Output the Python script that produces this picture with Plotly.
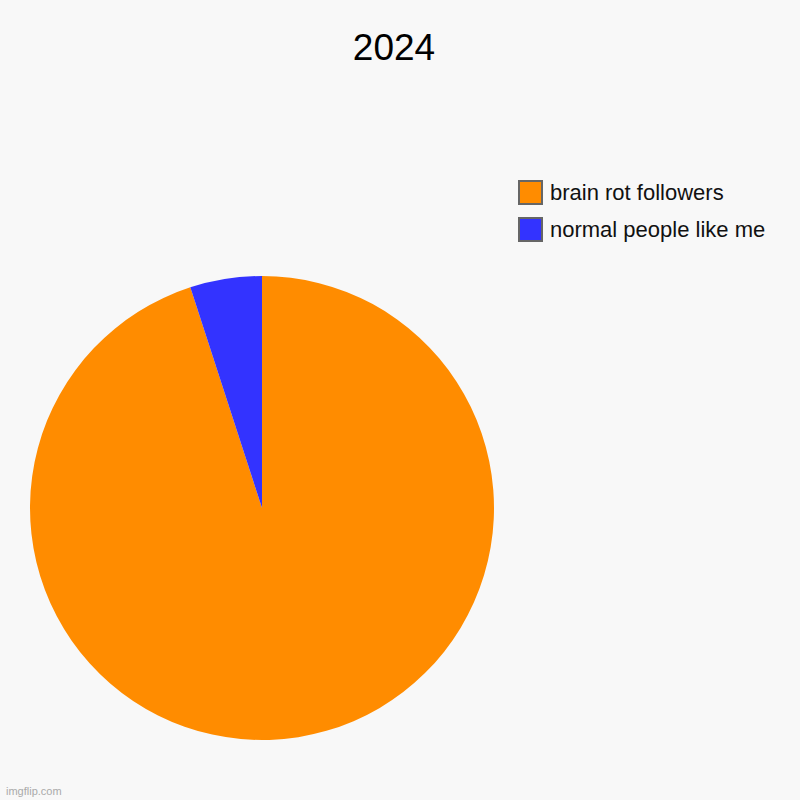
import plotly.graph_objects as go

# data
labels = ["brain rot followers", "normal people like me"]
values = [95, 5]
colors = ["#FF8C00", "#3333FF"]

W, H = 800, 800


def px(x):
    return x / W


def py(y):
    return 1 - y / H


fig = go.Figure()

fig.add_trace(go.Pie(
    labels=labels,
    values=values,
    marker=dict(colors=colors, line=dict(width=0)),
    sort=False,
    direction="clockwise",
    rotation=0,
    textinfo="none",
    hoverinfo="label+percent",
    showlegend=False,
    domain=dict(x=[px(30), px(494)], y=[py(740), py(276)]),
))

# hand-drawn legend (boxes with grey border, like the original)
for i, (lab, col) in enumerate(zip(labels, colors)):
    top = 181 + i * 37
    fig.add_shape(
        type="rect", xref="paper", yref="paper",
        x0=px(519), x1=px(542), y0=py(top + 23), y1=py(top),
        fillcolor=col, line=dict(color="#666666", width=2),
    )
    fig.add_annotation(
        x=px(548), y=py(top + 11.5), xref="paper", yref="paper",
        text=lab, showarrow=False, xanchor="left", yanchor="middle",
        font=dict(family="Liberation Sans, Arial", size=22, color="#111111"),
    )

# watermark
fig.add_annotation(
    x=px(4), y=py(791), xref="paper", yref="paper",
    text="imgflip.com", showarrow=False, xanchor="left", yanchor="middle",
    font=dict(family="Liberation Sans, Arial", size=11, color="#aaaaaa"),
)

fig.update_layout(
    title=dict(
        text="2024", x=px(394), xanchor="center", y=py(47), yanchor="middle",
        font=dict(family="Liberation Sans, Arial", size=37, color="#000000"),
    ),
    width=W, height=H,
    margin=dict(l=0, r=0, t=0, b=0),
    paper_bgcolor="#f8f8f8",
    plot_bgcolor="#f8f8f8",
)

# the page body has an 8px margin by default; drop it so the figure fills the window
fig.write_html(
    "out.html",
    config={"displayModeBar": False},
    post_script="document.body.style.margin='0';document.body.style.overflow='hidden';",
)
